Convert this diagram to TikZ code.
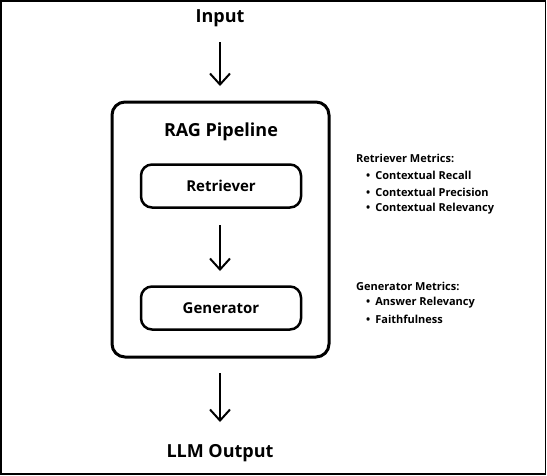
\documentclass[tikz,border=0pt]{standalone}
\usepackage{fontspec}
\setmainfont{Open Sans}
\usetikzlibrary{arrows.meta}
\begin{document}
\begin{tikzpicture}[x=1pt,y=-1pt,
  title/.style={font=\bfseries\fontsize{18}{20}\selectfont, inner sep=0pt},
  blockbox/.style={draw, line width=2.5pt, rounded corners=11pt, minimum width=160pt, minimum height=43pt, font=\bfseries\fontsize{15}{17}\selectfont},
  flow/.style={line width=2pt, -{Straight Barb[width=20pt,length=11pt,line width=2pt]}},
  metric/.style={font=\bfseries\fontsize{11}{13.5}\selectfont, anchor=north west, inner sep=0pt, align=left}
]
\useasboundingbox (0,0) rectangle (547,475);
\draw[line width=1.5pt] (0.75,0.75) rectangle (545.5,474);

\node[title] (input) at (220,18.5) {Input};
\draw[draw, line width=3pt, rounded corners=13pt] (112,102) rectangle (329,357);
\node[title] (rag) at (221,132) {RAG Pipeline};
\node[blockbox] (ret) at (221,186) {Retriever};
\node[blockbox] (gen) at (221,308) {Generator};
\node[title] (out) at (220,453) {LLM Output};

\coordinate (a1) at (220,42);
\coordinate (a2) at (220,86);
\coordinate (b1) at (220,373);
\coordinate (b2) at (220,422);
\draw[flow] (a1) -- (a2);
\draw[flow] (220,225) -- (220,271);
\draw[flow] (b1) -- (b2);

\node[metric] (rm) at (356,153.5) {Retriever Metrics:};
\node[metric, anchor=west] (r1) at (366,175.5) {\textbullet\hspace{5pt}Contextual Recall};
\node[metric, anchor=west] (r2) at (366,192) {\textbullet\hspace{5pt}Contextual Precision};
\node[metric, anchor=west] (r3) at (366,208.5) {\textbullet\hspace{5pt}Contextual Relevancy};
\node[metric] (gm) at (356,281.5) {Generator Metrics:};
\node[metric, anchor=west] (g1) at (366,303) {\textbullet\hspace{5pt}Answer Relevancy};
\node[metric, anchor=west] (g2) at (366,319.5) {\textbullet\hspace{5pt}Faithfulness};
\end{tikzpicture}
\end{document}
